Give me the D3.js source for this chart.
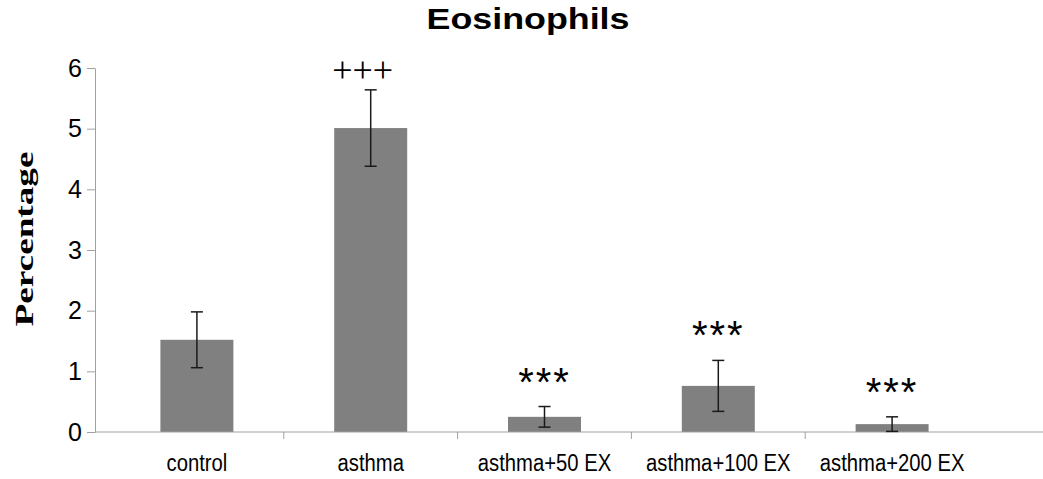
<!DOCTYPE html>
<html>
<head>
<meta charset="utf-8">
<script src="https://cdn.jsdelivr.net/npm/d3@7"></script>
<style>
  body { margin: 0; background: #fff; }
  text { font-family: "Liberation Sans", Arial, sans-serif; }
</style>
</head>
<body>
<svg id="chart" width="1043" height="479"></svg>
<script>
const groups = ['control', 'asthma', 'asthma+50 EX', 'asthma+100 EX', 'asthma+200 EX'];
const means = [1.52, 5.01, 0.25, 0.76, 0.13];
const errors = [0.46, 0.63, 0.17, 0.42, 0.12];
const marks = ['', '+++', '***', '***', '***'];
const yTicks = [0, 1, 2, 3, 4, 5, 6];

const svg = d3.select('#chart'),
    axisLeftX = 95,
    axisRightX = 1043,
    plotTop = 68,
    plotBottom = 432;

const x = d3.scaleBand()
  .domain(groups)
  .range([110, 979])
  .paddingInner(0.58)
  .paddingOuter(0.29);

const y = d3.scaleLinear()
  .domain([0, 6])
  .range([plotBottom, plotTop]);

// title
svg.append('text')
  .attr('x', 528)
  .attr('y', 29)
  .attr('text-anchor', 'middle')
  .attr('font-size', 30)
  .attr('font-weight', 'bold')
  .attr('textLength', 203)
  .attr('lengthAdjust', 'spacingAndGlyphs')
  .text('Eosinophils');

// y axis
const yAxis = svg.append('g')
  .attr('transform', `translate(${axisLeftX},0)`)
  .call(d3.axisLeft(y).tickValues(yTicks).tickFormat(d3.format('d'))
    .tickSize(8).tickPadding(5).tickSizeOuter(0));
yAxis.select('.domain').attr('stroke', '#a0a0a0');
yAxis.selectAll('.tick line').attr('stroke', '#a0a0a0');
yAxis.selectAll('.tick text')
  .attr('font-size', 25)
  .attr('font-family', '"Liberation Sans", Arial, sans-serif')
  .attr('fill', '#000');

svg.append('text')
  .attr('transform', `translate(33,239) rotate(-90)`)
  .attr('text-anchor', 'middle')
  .attr('font-weight', 'bold')
  .attr('font-size', 25)
  .attr('textLength', 175)
  .attr('lengthAdjust', 'spacingAndGlyphs')
  .style('font-family', '"Liberation Serif", "Times New Roman", serif')
  .text('Percentage');

// bars
svg.append('g')
  .selectAll('rect')
  .data(groups)
  .join('rect')
    .attr('x', d => x(d))
    .attr('width', x.bandwidth())
    .attr('y', (d, i) => y(means[i]))
    .attr('height', (d, i) => y(0) - y(means[i]))
    .attr('fill', '#808080');

// x axis line + category ticks
svg.append('line')
  .attr('x1', axisLeftX).attr('x2', axisRightX)
  .attr('y1', y(0)).attr('y2', y(0))
  .attr('stroke', '#a0a0a0');

svg.append('g')
  .selectAll('line')
  .data(groups.slice(1))
  .join('line')
    .attr('x1', d => x(d) - x.step() * x.paddingInner() / 2)
    .attr('x2', d => x(d) - x.step() * x.paddingInner() / 2)
    .attr('y1', y(0))
    .attr('y2', y(0) + 7)
    .attr('stroke', '#a0a0a0');

const xAxis = svg.append('g')
  .attr('transform', `translate(0,${y(0)})`)
  .call(d3.axisBottom(x).tickSize(0).tickPadding(23));
xAxis.select('.domain').remove();
xAxis.selectAll('.tick text')
  .attr('font-size', 23)
  .attr('font-family', '"Liberation Sans", Arial, sans-serif')
  .attr('fill', '#000')
  .each(function() {
    // the source labels are a bit narrower than the font's natural width
    const w = this.getComputedTextLength();
    d3.select(this).attr('textLength', w * 0.88).attr('lengthAdjust', 'spacingAndGlyphs');
  });

// error bars
const cx = d => x(d) + x.bandwidth() / 2;
const errG = svg.append('g').attr('stroke', '#1a1a1a').attr('stroke-width', 1.5);
groups.forEach((d, i) => {
  const hi = y(means[i] + errors[i]), lo = y(Math.max(0, means[i] - errors[i]));
  errG.append('line').attr('x1', cx(d)).attr('x2', cx(d)).attr('y1', hi).attr('y2', lo);
  errG.append('line').attr('x1', cx(d) - 6).attr('x2', cx(d) + 6).attr('y1', hi).attr('y2', hi);
  errG.append('line').attr('x1', cx(d) - 6).attr('x2', cx(d) + 6).attr('y1', lo).attr('y2', lo);
});

// significance marks
svg.append('g')
  .selectAll('text')
  .data(groups)
  .join('text')
    .attr('x', (d, i) => cx(d) + (marks[i] === '+++' ? -8 : 0))
    .attr('y', (d, i) => y(means[i] + errors[i]) - (marks[i] === '+++' ? 8 : 11))
    .attr('text-anchor', 'middle')
    .attr('font-size', (d, i) => marks[i] === '+++' ? 36 : 40)
    .attr('letter-spacing', (d, i) => marks[i] === '+++' ? 0 : 2)
    .style('font-family', (d, i) => marks[i] === '+++'
      ? '"Liberation Serif", "Times New Roman", serif'
      : '"Liberation Sans", Arial, sans-serif')
    .text((d, i) => marks[i]);
</script>
</body>
</html>
